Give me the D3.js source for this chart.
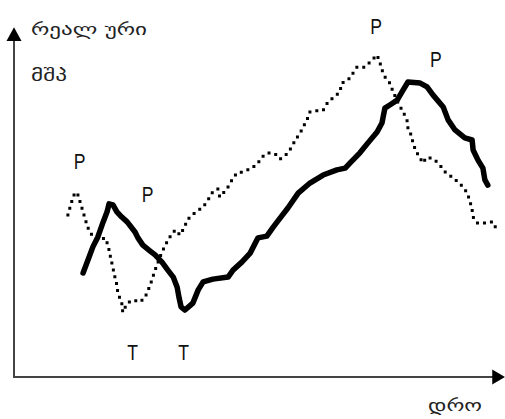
<!DOCTYPE html>
<html>
<head>
<meta charset="utf-8">
<script src="https://cdn.jsdelivr.net/npm/d3@7"></script>
<style>
  body { margin: 0; background: #fff; }
  .lbl { font-family: "Liberation Sans", Arial, sans-serif; font-size: 22px; fill: #111; }
  .geo { font-family: "DejaVu Sans", "Noto Sans", sans-serif; font-size: 17px; fill: #222; }
</style>
</head>
<body>
<div id="chart"></div>
<script>
// frame
const FRAME_WIDTH = 505;
const FRAME_HEIGHT = 419;

// real GDP (solid line): time, value
const solidT = [14.3, 15.3, 16.3, 17.3, 18.4, 19.2, 19.6, 20.4, 21.2, 22.2, 23.3, 24.9, 25.5, 26.5, 28.0, 29.0,
  30.4, 31.6, 32.7, 33.5, 33.9, 34.3, 35.1, 36.7, 37.8, 38.8, 40.8, 43.9, 44.9, 46.7, 48.4, 50.0, 51.8,
  53.1, 54.5, 56.1, 58.2, 60.6, 63.3, 66.1, 67.8, 68.8, 70.8, 72.4, 74.3, 75.3, 75.9, 76.9, 78.4, 79.6,
  80.6, 83.1, 84.5, 85.7, 87.8, 88.8, 90.2, 92.2, 93.7, 93.9, 94.9, 95.9, 96.3, 96.9];
const solidV = [30.0, 33.7, 37.5, 40.3, 44.7, 47.6, 49.9, 49.6, 47.6, 46.1, 44.7, 41.8, 40.1, 38.0, 36.3, 35.2,
  33.1, 30.8, 28.8, 25.9, 22.8, 20.2, 19.3, 21.3, 25.1, 27.4, 28.2, 28.8, 30.8, 33.1, 35.7, 40.1, 40.6,
  43.2, 45.8, 48.7, 53.0, 55.9, 58.2, 59.7, 60.2, 61.7, 64.6, 67.4, 70.6, 73.2, 77.5, 78.4, 79.8, 82.7,
  85.0, 84.7, 83.6, 81.3, 77.8, 74.1, 71.2, 68.9, 68.3, 65.4, 62.5, 60.2, 56.8, 55.3];

// second series (dotted line): time, value
const dottedT = [11.2, 11.6, 12.2, 12.7, 13.3, 13.7, 14.3, 15.1, 15.7, 16.7, 17.8, 18.8, 19.4, 19.8, 20.4, 20.8,
  21.2, 21.4, 22.2, 22.4, 23.3, 24.5, 25.9, 26.9, 28.0, 29.0, 30.0, 31.0, 32.0, 33.1, 34.1, 35.1, 35.5,
  37.1, 38.8, 39.8, 40.6, 41.8, 42.2, 42.9, 43.9, 44.7, 45.7, 46.9, 48.8, 50.0, 50.8, 52.0, 53.5, 54.5,
  55.9, 56.9, 57.6, 58.6, 59.2, 60.0, 60.6, 62.0, 63.3, 64.3, 65.3, 66.7, 67.1, 68.4, 69.4, 70.2, 71.8,
  72.9, 74.3, 74.9, 75.3, 75.9, 76.9, 77.6, 78.6, 79.6, 80.4, 80.6, 81.4, 81.6, 82.4, 83.1, 83.5, 84.7,
  86.1, 87.1, 88.2, 89.6, 90.8, 91.8, 92.7, 93.3, 93.7, 93.9, 94.7, 96.3, 98.0, 98.6];
const dottedV = [46.7, 48.7, 51.6, 53.3, 52.4, 50.4, 47.6, 43.8, 41.5, 40.3, 39.5, 40.1, 38.0, 35.2, 31.4, 28.8,
  26.5, 24.2, 21.3, 18.7, 21.3, 22.2, 21.6, 22.8, 26.5, 30.8, 34.6, 37.8, 40.3, 42.4, 40.9, 43.5, 45.2,
  47.3, 49.0, 51.0, 53.0, 54.2, 51.9, 53.0, 54.8, 56.8, 58.8, 59.1, 60.2, 61.7, 63.4, 64.6, 64.3, 62.8,
  64.3, 66.3, 68.3, 70.3, 72.0, 74.1, 76.4, 76.7, 76.9, 79.3, 80.4, 82.1, 84.7, 85.6, 87.6, 89.3, 89.3,
  90.8, 92.8, 90.5, 88.5, 86.5, 84.7, 82.1, 79.0, 76.4, 74.1, 71.8, 69.2, 67.4, 64.6, 63.4, 61.7, 63.4,
  62.5, 61.1, 59.1, 57.6, 56.2, 54.8, 53.0, 50.4, 48.1, 46.1, 44.4, 44.4, 44.7, 42.7];

// peak / trough markers
const markText = ["P", "P", "P", "P", "T", "T"];
const markT = [12.4, 26.3, 72.9, 85.1, 23.3, 33.7];
const markV = [59.9, 50.4, 98.8, 89.3, 4.9, 4.9];

const yTitle = ["რეალ ური", "მშპ"];
const xTitle = "დრო";

const svg = d3.select("#chart")
  .append("svg")
  .attr("width", FRAME_WIDTH)
  .attr("height", FRAME_HEIGHT);

const X = d3.scaleLinear().domain([0, 100]).range([13, 503]);
const Y = d3.scaleLinear().domain([0, 100]).range([377, 30]);

const line = d3.line()
  .x(d => X(d[0]))
  .y(d => Y(d[1]));

// dotted series
svg.append("path")
  .datum(d3.zip(dottedT, dottedV))
  .attr("d", line)
  .attr("fill", "none")
  .attr("stroke", "#000")
  .attr("stroke-width", 3)
  .attr("stroke-linecap", "square")
  .attr("stroke-dasharray", "0 7");

// solid series
svg.append("path")
  .datum(d3.zip(solidT, solidV))
  .attr("d", line)
  .attr("fill", "none")
  .attr("stroke", "#000")
  .attr("stroke-width", 5.5)
  .attr("stroke-linejoin", "round")
  .attr("stroke-linecap", "round");

// axes
const x0 = X(0) + 1, y0 = Y(0);
svg.append("line")
  .attr("x1", x0).attr("y1", y0)
  .attr("x2", X(98)).attr("y2", y0)
  .attr("stroke", "#444").attr("stroke-width", 2);
svg.append("line")
  .attr("x1", x0).attr("y1", y0 + 1)
  .attr("x2", x0).attr("y2", Y(97))
  .attr("stroke", "#444").attr("stroke-width", 2);

// arrow heads
svg.append("path")
  .attr("d", `M${X(100.4)},${y0} L${X(97.8)},${y0 - 7.5} L${X(97.8)},${y0 + 7.5} Z`)
  .attr("fill", "#000");
svg.append("path")
  .attr("d", `M${x0},${Y(100.8)} L${x0 - 7.5},${Y(96.8)} L${x0 + 7.5},${Y(96.8)} Z`)
  .attr("fill", "#000");

// P / T labels
svg.selectAll(".lbl")
  .data(d3.zip(markText, markT, markV))
  .enter()
  .append("text")
    .attr("class", "lbl")
    .attr("transform", d => `translate(${X(d[1])},${Y(d[2])}) scale(0.8,1)`)
    .text(d => d[0]);

// axis titles
svg.append("text").attr("class", "geo")
  .attr("x", 31).attr("y", 35)
  .attr("textLength", 116).attr("lengthAdjust", "spacingAndGlyphs")
  .text(yTitle[0]);
svg.append("text").attr("class", "geo")
  .attr("x", 31).attr("y", 81)
  .attr("textLength", 36).attr("lengthAdjust", "spacingAndGlyphs")
  .text(yTitle[1]);
svg.append("text").attr("class", "geo")
  .attr("x", 428).attr("y", 411)
  .attr("textLength", 54).attr("lengthAdjust", "spacingAndGlyphs")
  .text(xTitle);
</script>
</body>
</html>
